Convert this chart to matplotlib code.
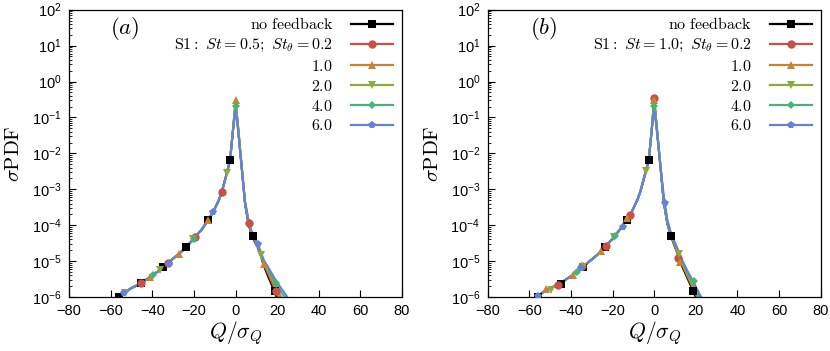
import numpy as np
import matplotlib
matplotlib.use('Agg')
import matplotlib.pyplot as plt
from matplotlib.lines import Line2D
from matplotlib.ticker import FixedLocator, FuncFormatter, LogLocator, NullFormatter

plt.rcParams['mathtext.fontset'] = 'cm'
plt.rcParams['font.family'] = ['Liberation Sans', 'DejaVu Sans']

# series labels / styles
tags = ['nofb', 'st02', 'st10', 'st20', 'st40', 'st60']
colors = ['black', '#c85046', '#c88232', '#8caa3c', '#46b478', '#6482dc']
markers = ['s', 'o', '^', 'v', 'D', 'p']
msizes = [5.5, 6, 6, 6, 4.5, 6]
tail_labels = [r'$1.0$', r'$2.0$', r'$4.0$', r'$6.0$']

# left branch (shared shape), Q < 0
q_left = [-58, -56, -53.5, -50, -45.4, -40, -36.5, -34.6, -32.5, -27.0,
          -23.7, -19.7, -16.0, -13.3, -10.7, -8.0, -6.6, -4.2, -2.6, -1.2]
pdf_left_a = [8.5e-7, 1.0e-6, 1.29e-6, 1.78e-6, 2.4e-6, 4.0e-6, 5.5e-6, 7.0e-6, 8.9e-6, 1.62e-5,
              2.45e-5, 4.4e-5, 7.9e-5, 1.35e-4, 2.34e-4, 5.0e-4, 8.3e-4, 2.75e-3, 6.5e-3, 4.5e-2]
pdf_left_b = [8.5e-7, 1.02e-6, 1.35e-6, 1.75e-6, 2.35e-6, 3.8e-6, 5.3e-6, 6.6e-6, 8.4e-6, 1.55e-5,
              2.45e-5, 4.4e-5, 8.2e-5, 1.4e-4, 2.4e-4, 5.2e-4, 8.8e-4, 2.9e-3, 6.5e-3, 4.5e-2]

# peak at Q = 0
peak_a = [0.22, 0.27, 0.31, 0.25, 0.21, 0.15]
peak_b = [0.30, 0.34, 0.31, 0.27, 0.21, 0.15]

# right branch, Q > 0
q_right = [1.0, 2.2, 4.6, 6.3, 8.0, 10.6, 12.4, 13.5, 16.0, 18.8, 21.5, 24.0, 26.0]
right_a = {
    'nofb': [7.0e-2, 1.2e-2, 3.8e-4, 1.05e-4, 4.8e-5, 2.5e-5, 1.3e-5, 7.6e-6, 3.4e-6, 1.4e-6, 5.0e-7, 2.5e-7, 1.5e-7],
    'st02': [7.5e-2, 1.3e-2, 4.0e-4, 1.12e-4, 5.1e-5, 2.7e-5, 1.4e-5, 8.3e-6, 4.0e-6, 1.7e-6, 7.0e-7, 3.5e-7, 2.0e-7],
    'st10': [8.0e-2, 1.35e-2, 4.1e-4, 1.15e-4, 5.3e-5, 2.8e-5, 1.45e-5, 8.7e-6, 4.5e-6, 2.0e-6, 9.0e-7, 4.5e-7, 2.5e-7],
    'st20': [7.5e-2, 1.3e-2, 4.2e-4, 1.2e-4, 5.5e-5, 2.9e-5, 1.5e-5, 9.5e-6, 5.2e-6, 2.4e-6, 1.15e-6, 6.0e-7, 3.5e-7],
    'st40': [7.0e-2, 1.25e-2, 4.3e-4, 1.22e-4, 5.6e-5, 3.0e-5, 1.55e-5, 1.0e-5, 5.6e-6, 2.8e-6, 1.5e-6, 9.5e-7, 6.0e-7],
    'st60': [6.0e-2, 1.15e-2, 4.5e-4, 1.3e-4, 5.9e-5, 3.1e-5, 1.65e-5, 1.1e-5, 6.3e-6, 3.3e-6, 1.9e-6, 1.2e-6, 7.9e-7],
}
right_b = {
    'nofb': [7.0e-2, 1.3e-2, 4.3e-4, 1.1e-4, 5.0e-5, 2.0e-5, 1.05e-5, 7.0e-6, 3.3e-6, 1.45e-6, 6.0e-7, 3.0e-7, 2.0e-7],
    'st02': [7.5e-2, 1.35e-2, 4.5e-4, 1.15e-4, 5.2e-5, 2.1e-5, 1.15e-5, 7.8e-6, 3.7e-6, 1.65e-6, 7.5e-7, 3.5e-7, 2.0e-7],
    'st10': [7.5e-2, 1.35e-2, 4.6e-4, 1.2e-4, 5.3e-5, 2.2e-5, 1.2e-5, 8.2e-6, 4.0e-6, 1.8e-6, 8.5e-7, 4.0e-7, 2.0e-7],
    'st20': [7.5e-2, 1.4e-2, 4.8e-4, 1.25e-4, 5.5e-5, 2.4e-5, 1.35e-5, 9.0e-6, 4.4e-6, 2.0e-6, 9.5e-7, 4.5e-7, 2.5e-7],
    'st40': [7.0e-2, 1.3e-2, 4.8e-4, 1.3e-4, 5.7e-5, 2.5e-5, 1.4e-5, 9.5e-6, 4.8e-6, 2.6e-6, 1.15e-6, 5.5e-7, 3.0e-7],
    'st60': [6.0e-2, 1.2e-2, 6.5e-4, 1.45e-4, 6.2e-5, 2.7e-5, 1.5e-5, 1.05e-5, 5.3e-6, 2.7e-6, 1.3e-6, 7.0e-7, 4.0e-7],
}

# marker points (symbols every few data points)
mq_a = {
    'nofb': [-56, -45.4, -34.6, -23.7, -13.3, -2.6, 8.2, 18.8],
    'st02': [-45.4, -32.5, -19.4, -6.6, 6.4, 19.4],
    'st10': [-41, -27.3, -13.3, 0, 13.5],
    'st20': [-53, -36.5, -20.3, -4.2, 12.3],
    'st40': [-39.8, -19.9, 0, 19.4],
    'st60': [-53.5, -32, -10.6, 10.7],
}
mp_a = {
    'nofb': [1.0e-6, 2.4e-6, 7.0e-6, 2.45e-5, 1.35e-4, 6.4e-3, 4.9e-5, 1.45e-6],
    'st02': [2.4e-6, 8.9e-6, 4.7e-5, 8.3e-4, 1.12e-4, 1.45e-6],
    'st10': [3.6e-6, 1.6e-5, 1.4e-4, 0.31, 8.5e-6],
    'st20': [1.3e-6, 5.5e-6, 4.0e-5, 2.8e-3, 1.45e-5],
    'st40': [4.0e-6, 4.1e-5, 0.21, 2.45e-6],
    'st60': [1.3e-6, 8.3e-6, 2.3e-4, 3.0e-5],
}
mq_b = {
    'nofb': [-55.7, -44.9, -34.3, -23.6, -13.1, -2.3, 8.1, 18.8],
    'st02': [-46.4, -34.6, -23.3, -11.5, 0, 11.2],
    'st10': [-52.1, -38.8, -25.7, -13.1, 0, 12.3],
    'st20': [-49.7, -34.4, -19.1, -3.9, 12.1],
    'st40': [-37.2, -18.8, 0, 18.9],
    'st60': [-55.7, -35.3, -15.1, 5.2],
}
mp_b = {
    'nofb': [1.0e-6, 2.35e-6, 6.9e-6, 2.45e-5, 1.4e-4, 6.4e-3, 4.9e-5, 1.5e-6],
    'st02': [2.2e-6, 7.2e-6, 2.6e-5, 1.95e-4, 0.34, 1.2e-5],
    'st10': [1.66e-6, 4.1e-6, 1.86e-5, 1.6e-4, 0.30, 9.3e-6],
    'st20': [1.6e-6, 6.8e-6, 4.6e-5, 3.2e-3, 1.62e-5],
    'st40': [4.9e-6, 4.9e-5, 0.21, 2.75e-6],
    'st60': [1.05e-6, 6.3e-6, 8.9e-5, 4.2e-4],
}


def draw_panel(ax, pdf_left, peak, right, mq, mp, st_text, tag_text):
    for i, t in enumerate(tags):
        q = q_left + [0.0] + q_right
        p = pdf_left + [peak[i]] + right[t]
        ax.plot(q, p, color=colors[i], lw=1.5, zorder=2 + i * 0.1)
    for i, t in enumerate(tags):
        ax.plot(mq[t], mp[t], ls='none', marker=markers[i], ms=msizes[i],
                color=colors[i], mew=0, zorder=3 + i * 0.1)

    ax.set_yscale('log')
    ax.set_xlim(-80, 80)
    ax.set_ylim(1e-6, 1e2)
    ax.xaxis.set_major_locator(FixedLocator(np.arange(-80, 81, 20)))
    ax.yaxis.set_major_locator(LogLocator(base=10, numticks=20))
    ax.yaxis.set_minor_locator(LogLocator(base=10, subs=np.arange(2, 10), numticks=20))
    ax.yaxis.set_minor_formatter(NullFormatter())
    ax.yaxis.set_major_formatter(FuncFormatter(
        lambda v, pos: r'10$^{\mathregular{%d}}$' % int(round(np.log10(v)))))
    ax.tick_params(which='both', direction='in', labelsize=10.5)
    ax.tick_params(which='major', length=5, width=0.8, pad=5)
    ax.tick_params(which='minor', length=2.5, width=0.6)
    for s in ax.spines.values():
        s.set_linewidth(0.9)

    ax.set_xlabel(r'$Q/\sigma_Q$', fontsize=15.5, labelpad=1)
    ax.set_ylabel(r'$\sigma\mathrm{PDF}$', fontsize=15, labelpad=6)
    ax.text(0.168, 0.933, tag_text, transform=ax.transAxes, fontsize=16.5,
            ha='center', va='center')

    labels = [r'$\mathrm{no\ feedback}$', st_text] + tail_labels
    handles = [Line2D([], [], color=colors[i], lw=1.6, marker=markers[i],
                      ms=msizes[i], mew=0) for i in range(len(tags))]
    ax.legend(handles, labels, loc='upper right', bbox_to_anchor=(0.973, 0.977),
              frameon=False, markerfirst=False, fontsize=11.5, handlelength=2.6,
              handletextpad=1.15, labelspacing=0.3, borderpad=0, borderaxespad=0)


fig = plt.figure(figsize=(8.3, 3.51), dpi=100)
ax_a = fig.add_axes([69 / 830, 54 / 351, 333 / 830, 287.3 / 351])
ax_b = fig.add_axes([487.7 / 830, 54 / 351, 333 / 830, 287.3 / 351])

draw_panel(ax_a, pdf_left_a, peak_a, right_a, mq_a, mp_a,
           r'$\mathrm{S1{:}}\ St=0.5;\ St_\theta=0.2$', r'$(a)$')
draw_panel(ax_b, pdf_left_b, peak_b, right_b, mq_b, mp_b,
           r'$\mathrm{S1{:}}\ St=1.0;\ St_\theta=0.2$', r'$(b)$')

fig.savefig('out.png', dpi=100)
